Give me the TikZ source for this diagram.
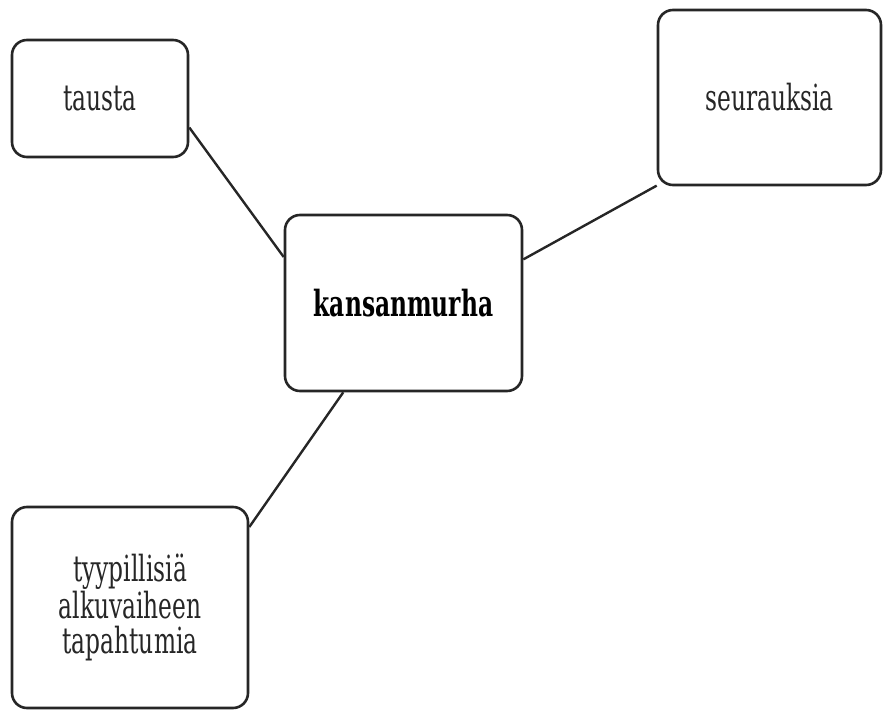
\documentclass[tikz,border=0pt]{standalone}
\usepackage{fontspec}
\setmainfont[FakeStretch=0.72]{DejaVu Serif Condensed}
\tikzset{
  box/.style={draw=black!85, line width=2.6pt, rounded corners=15pt, align=center,
    inner sep=0pt, font=\fontsize{36}{35}\selectfont, text=black!85},
  link/.style={draw=black!85, line width=2.4pt}
}
\begin{document}
\begin{tikzpicture}[x=1pt,y=-1pt]
\useasboundingbox (0,0) rectangle (883,711);
\node[box, minimum width=176pt, minimum height=117pt] (tausta) at (100,98.5) {tausta};
\node[box, minimum width=223pt, minimum height=175pt] (seur) at (769.5,97.5) {seurauksia};
\node[box, minimum width=237pt, minimum height=176pt, font=\fontsize{36}{35}\selectfont\bfseries, text=black] (kans) at (403.5,303) {kansanmurha};
\node[box, minimum width=236pt, minimum height=201pt] (tyyp) at (130,607.5) {tyypillisiä\\alkuvaiheen\\tapahtumia};
\draw[link] (tausta.-18.5) -- (kans.159);
\draw[link] (seur.-142.5) -- (kans.20);
\draw[link] (kans.-124.8) -- (tyyp.34.8);
\end{tikzpicture}
\end{document}
